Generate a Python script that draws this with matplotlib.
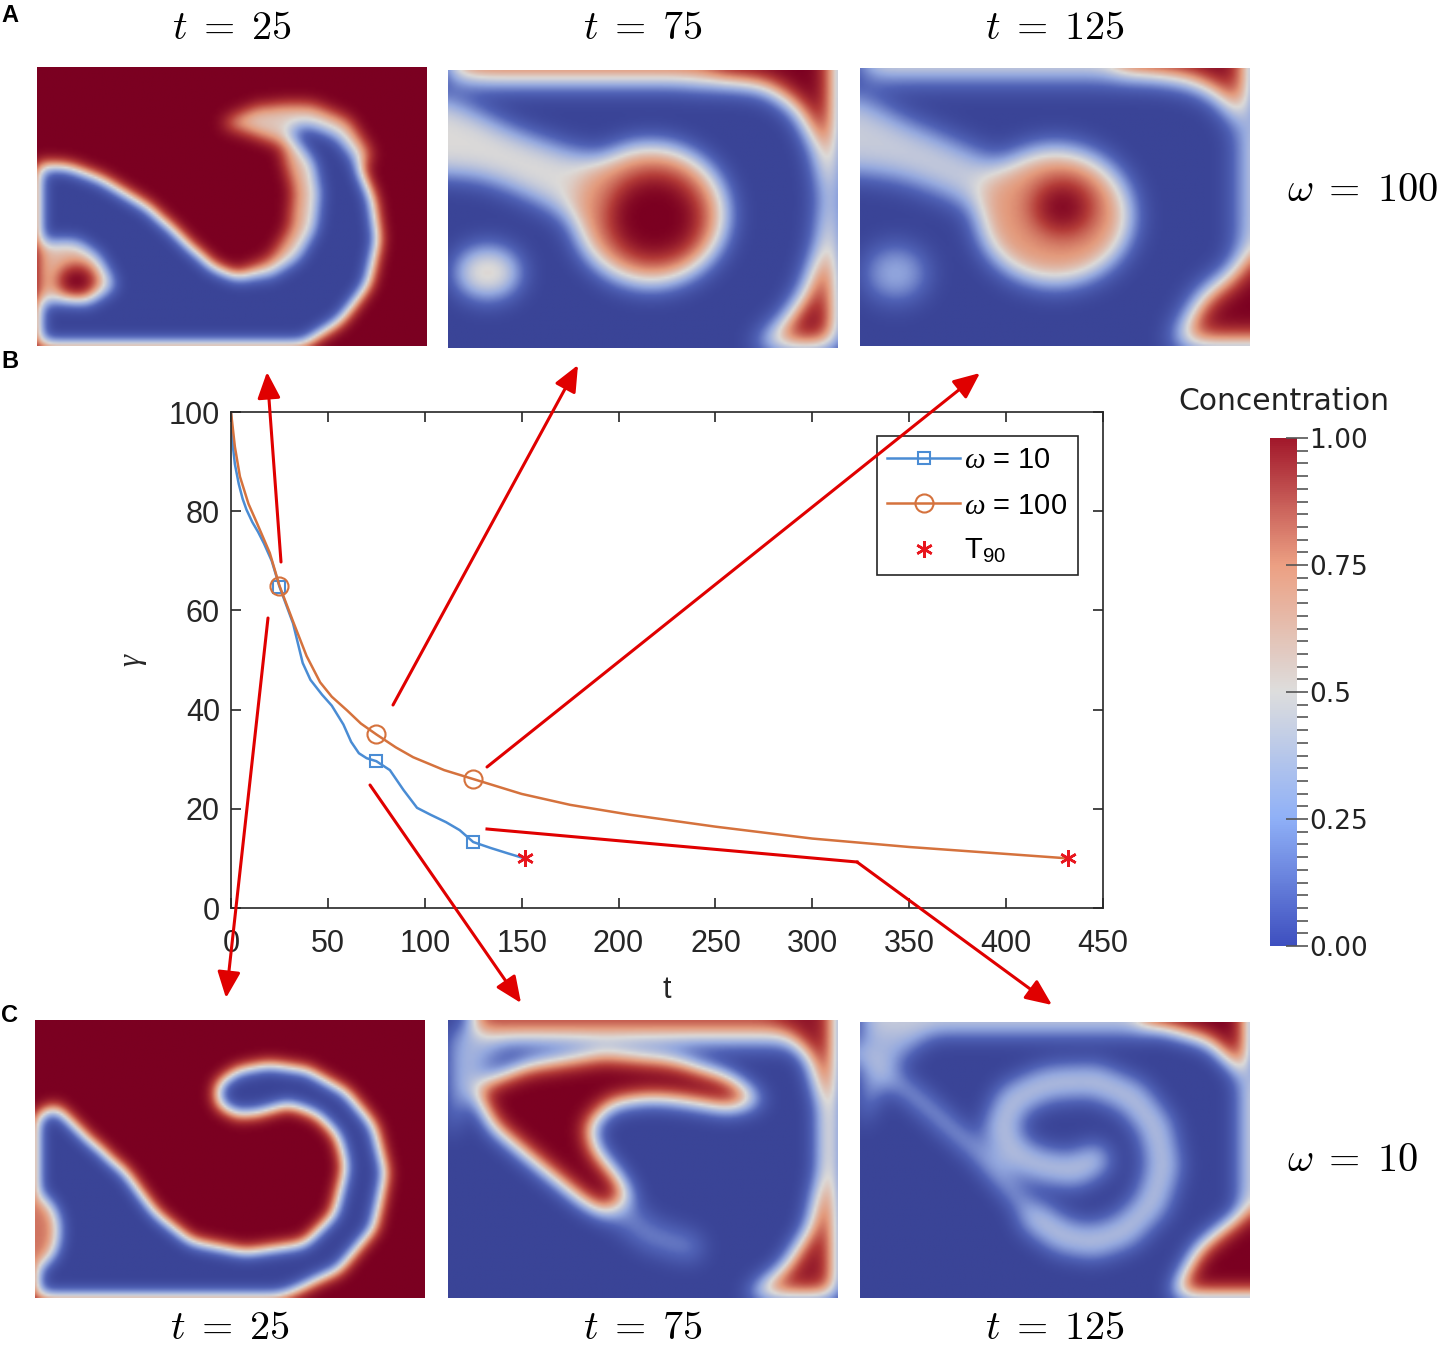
import matplotlib
matplotlib.use("Agg")
import matplotlib.pyplot as plt
import numpy as np
from matplotlib.cm import ScalarMappable
from matplotlib.colors import LinearSegmentedColormap, Normalize
from matplotlib.lines import Line2D
from matplotlib.patches import FancyArrowPatch
from matplotlib.path import Path
from matplotlib.ticker import MultipleLocator

# %% DATA
t_w10 = [0, 1, 2, 4, 6, 8, 11, 14, 17, 21, 25, 32, 37, 41, 47, 52, 58, 62, 66,
         70, 75, 82, 89, 96, 103, 111, 118, 125, 134, 143, 151.5]
gamma_w10 = [100, 93, 89.5, 85.5, 82.5, 80.3, 77.8, 75.8, 73.5, 70, 64.8, 57.4,
             49.4, 46, 43, 40.8, 37, 33.5, 31.2, 30.2, 29.6, 27.8, 23.8, 20.2,
             18.8, 17.3, 15.7, 13.3, 12.1, 11.0, 10.0]
t_w100 = [0, 2, 4.6, 9, 13.4, 20, 25, 32, 39, 46, 52, 60, 67, 75, 85, 94, 110,
          125, 150, 175, 206, 250, 300, 350, 400, 432]
gamma_w100 = [100, 93, 87, 81.5, 77.6, 71.6, 65, 57.8, 50.8, 45.5, 42.6, 39.8,
              37.2, 35, 32.4, 30.4, 27.8, 26, 23, 20.8, 18.8, 16.4, 14, 12.3,
              10.9, 10.0]
t_snap = [25, 75, 125]
t90 = [151.5, 432]
gamma_t90 = [10.0, 10.0]

x_ticks = list(range(0, 451, 50))
y_ticks = list(range(0, 101, 20))
cbar_ticks = [0, 0.25, 0.5, 0.75, 1.0]
cbar_labels = ["0.00", "0.25", "0.5", "0.75", "1.00"]
snap_titles = [r"$t\;=\;25$", r"$t\;=\;75$", r"$t\;=\;125$"]

# %% STYLE
plt.rcParams["font.family"] = ["Liberation Sans", "DejaVu Sans"]
plt.rcParams["mathtext.fontset"] = "custom"
plt.rcParams["mathtext.rm"] = "Liberation Sans"
plt.rcParams["mathtext.it"] = "Liberation Serif:italic"
plt.rcParams["mathtext.bf"] = "Liberation Sans:bold"

BLUE = "#4a8cd4"
ORANGE = "#d5723d"
STAR = "#e8161e"
ARROW = "#e00000"
AXC = "#262626"

img_cmap = LinearSegmentedColormap.from_list(
    "conc_img",
    [(0, "#3a4497"), (0.15, "#5062b6"), (0.32, "#94a8de"), (0.5, "#dcdad8"),
     (0.68, "#e39a7c"), (0.85, "#b43c38"), (1, "#7b0021")],
)
cb_cmap = LinearSegmentedColormap.from_list(
    "conc_bar",
    [(0, "#3e4fbf"), (0.25, "#8fb0f7"), (0.5, "#dddddd"), (0.75, "#eca083"),
     (1, "#a2182b")],
)

# %% FIELD HELPERS (snapshot panels)
NY, NX = 140, 196
U, V = np.meshgrid(np.linspace(0, 1, NX), np.linspace(0, 1, NY))
PTS = np.column_stack([U.ravel(), V.ravel()])
ASPECT = 1.4


def poly_mask(verts):
    return Path(verts).contains_points(PTS).reshape(NY, NX)


def ellipse_mask(cx, cy, rx, ry):
    return ((U - cx) / rx) ** 2 + ((V - cy) / ry) ** 2 <= 1


def band_mask(pts, hw):
    X, Y = U * ASPECT, V
    d = np.full(U.shape, np.inf)
    for (x0, y0), (x1, y1) in zip(pts[:-1], pts[1:]):
        x0, x1 = x0 * ASPECT, x1 * ASPECT
        dx, dy = x1 - x0, y1 - y0
        s = np.clip(((X - x0) * dx + (Y - y0) * dy) / (dx * dx + dy * dy), 0, 1)
        d = np.minimum(d, np.hypot(X - x0 - s * dx, Y - y0 - s * dy))
    return d <= hw


def blur(a, sigma):
    r = int(3 * sigma)
    k = np.exp(-0.5 * (np.arange(-r, r + 1) / sigma) ** 2)
    k /= k.sum()
    p = np.pad(a, ((r, r), (0, 0)), mode="edge")
    a = sum(w * p[i:i + NY] for i, w in enumerate(k))
    p = np.pad(a, ((0, 0), (r, r)), mode="edge")
    return sum(w * p[:, i:i + NX] for i, w in enumerate(k))


MASKS = {"poly": poly_mask, "ellipse": ellipse_mask, "band": band_mask}


def make_field(background, layers, sigma):
    c = np.full((NY, NX), float(background))
    for kind, args, value in layers:
        c[MASKS[kind](*args)] = value
    return blur(c, sigma)


# omega = 100
A1 = (1.0, [
    ("poly", ([(0.47, 0.80), (0.57, 0.86), (0.70, 0.87), (0.80, 0.81), (0.86, 0.68),
               (0.80, 0.62), (0.70, 0.66), (0.62, 0.73), (0.54, 0.77)],), 0.55),
    ("poly", ([(0.52, 0.21), (0.62, 0.22), (0.69, 0.30), (0.73, 0.42), (0.73, 0.58),
               (0.69, 0.70), (0.63, 0.70), (0.66, 0.56), (0.65, 0.42), (0.60, 0.31),
               (0.52, 0.26)],), 0.6),
    ("poly", ([(0, 0.65), (0.08, 0.64), (0.16, 0.60), (0.29, 0.49), (0.38, 0.37),
               (0.45, 0.28), (0.52, 0.24), (0.60, 0.25), (0.67, 0.31), (0.715, 0.42),
               (0.725, 0.55), (0.71, 0.66), (0.67, 0.74), (0.64, 0.78), (0.70, 0.79),
               (0.77, 0.75), (0.82, 0.66), (0.86, 0.53), (0.875, 0.38), (0.85, 0.22),
               (0.78, 0.09), (0.68, 0.0), (0, 0)],), 0.0),
    ("poly", ([(0, 0.37), (0.10, 0.38), (0.16, 0.32), (0.20, 0.21), (0.13, 0.15),
               (0, 0.16)],), 0.6),
    ("ellipse", (0.10, 0.23, 0.05, 0.06), 1.0),
], 4.0)
A2 = (0.0, [
    ("poly", ([(0, 0.965), (0, 1.0), (0.75, 1.0), (0.75, 0.955)],), 0.8),
    ("poly", ([(0.68, 1), (1, 1), (1, 0), (0.78, 0), (0.86, 0.08), (0.92, 0.2),
               (0.96, 0.38), (0.97, 0.55), (0.95, 0.72), (0.90, 0.86), (0.82, 0.94),
               (0.72, 0.96)],), 1.0),
    ("poly", ([(0, 0.62), (0.08, 0.61), (0.16, 0.57), (0.25, 0.51), (0.33, 0.44),
               (0.42, 0.38), (0.42, 0.68), (0.30, 0.72), (0.18, 0.78), (0.08, 0.85),
               (0, 0.90)],), 0.5),
    ("ellipse", (0.52, 0.48, 0.20, 0.26), 0.7),
    ("ellipse", (0.53, 0.47, 0.12, 0.16), 1.0),
    ("ellipse", (0.10, 0.27, 0.085, 0.095), 0.55),
], 6.5)
A3 = (0.0, [
    ("poly", ([(0, 0.97), (0, 1), (0.72, 1), (0.72, 0.965)],), 0.55),
    ("poly", ([(0.66, 1), (1, 1), (1, 0.68), (0.97, 0.82), (0.92, 0.91), (0.84, 0.96),
               (0.75, 0.975)],), 1.0),
    ("poly", ([(0.975, 0.2), (1, 0.2), (1, 0.8), (0.975, 0.8)],), 0.5),
    ("poly", ([(0.80, 0), (1, 0), (1, 0.33), (0.95, 0.25), (0.88, 0.18),
               (0.84, 0.08)],), 1.0),
    ("poly", ([(0, 0.62), (0.1, 0.60), (0.2, 0.55), (0.32, 0.47), (0.36, 0.66),
               (0.22, 0.75), (0.12, 0.81), (0, 0.90)],), 0.45),
    ("ellipse", (0.50, 0.47, 0.20, 0.25), 0.68),
    ("ellipse", (0.52, 0.50, 0.08, 0.10), 1.0),
    ("ellipse", (0.09, 0.26, 0.08, 0.10), 0.35),
], 7.0)

# omega = 10
C1 = (1.0, [
    ("poly", ([(0, 0.65), (0.05, 0.69), (0.12, 0.59), (0.23, 0.45), (0.31, 0.30),
               (0.40, 0.20), (0.54, 0.16), (0.69, 0.19), (0.77, 0.30), (0.80, 0.47),
               (0.78, 0.58), (0.73, 0.66), (0.65, 0.70), (0.58, 0.67), (0.52, 0.66),
               (0.47, 0.70), (0.47, 0.77), (0.52, 0.82), (0.60, 0.84), (0.70, 0.82),
               (0.80, 0.74), (0.87, 0.62), (0.90, 0.45), (0.87, 0.25), (0.78, 0.10),
               (0.66, 0.02), (0.62, 0), (0, 0)],), 0.0),
    ("ellipse", (0.0, 0.24, 0.06, 0.13), 0.75),
], 4.0)
C2 = (0.0, [
    ("poly", ([(0, 0.55), (0, 0.97), (0.2, 0.95), (0.10, 0.85), (0.04, 0.70)],), 0.38),
    ("poly", ([(0.05, 0.90), (0.05, 0.955), (0.88, 0.955), (0.88, 0.90)],), 0.3),
    ("poly", ([(0.06, 0.955), (0.06, 1), (1, 1), (1, 0.95)],), 0.85),
    ("poly", ([(0.84, 1), (1, 1), (1, 0), (0.76, 0), (0.86, 0.10), (0.93, 0.25),
               (0.96, 0.45), (0.96, 0.70), (0.93, 0.86)],), 0.95),
    ("poly", ([(0.06, 0.76), (0.20, 0.84), (0.40, 0.88), (0.58, 0.86), (0.72, 0.80),
               (0.81, 0.71), (0.72, 0.68), (0.60, 0.71), (0.52, 0.72), (0.42, 0.70),
               (0.36, 0.62), (0.38, 0.53), (0.44, 0.43), (0.48, 0.33), (0.44, 0.27),
               (0.35, 0.34), (0.21, 0.50), (0.11, 0.62)],), 1.0),
    ("band", ([(0.45, 0.30), (0.52, 0.22), (0.62, 0.18)], 0.05), 0.25),
], 5.5)
C3 = (0.0, [
    ("poly", ([(0, 0.60), (0, 1), (0.22, 1), (0.10, 0.86), (0.04, 0.72)],), 0.35),
    ("poly", ([(0, 0.96), (0, 1), (0.75, 1), (0.75, 0.96)],), 0.45),
    ("poly", ([(0.72, 1), (1, 1), (1, 0.72), (0.97, 0.83), (0.90, 0.93),
               (0.80, 0.97)],), 1.0),
    ("poly", ([(0.975, 0.25), (1, 0.25), (1, 0.8), (0.975, 0.8)],), 0.5),
    ("poly", ([(0.80, 0), (1, 0), (1, 0.32), (0.94, 0.26), (0.87, 0.18),
               (0.83, 0.08)],), 1.0),
    ("band", ([(0, 0.89), (0.15, 0.72), (0.30, 0.53), (0.38, 0.40), (0.45, 0.29)],
              0.025), 0.45),
    ("band", ([(0.45, 0.29), (0.52, 0.22), (0.60, 0.20), (0.68, 0.24), (0.75, 0.34),
               (0.78, 0.48), (0.76, 0.62), (0.70, 0.73), (0.60, 0.79), (0.48, 0.78),
               (0.39, 0.72), (0.36, 0.62), (0.39, 0.53), (0.46, 0.48), (0.55, 0.46),
               (0.60, 0.50)], 0.06), 0.42),
], 5.5)

# %% FIGURE
W, H = 1449, 1352
fig = plt.figure(figsize=(W / 100, H / 100), dpi=100)


def fig_box(x0, y0, x1, y1):
    return [x0 / W, 1 - y1 / H, (x1 - x0) / W, (y1 - y0) / H]


def fxy(x, y):
    return (x / W, 1 - y / H)


top_boxes = [(37, 67, 427, 346), (448, 70, 838, 348), (860, 68, 1250, 346)]
bot_boxes = [(35, 1020, 425, 1298), (448, 1020, 838, 1298), (860, 1022, 1250, 1298)]

for box, spec in zip(top_boxes + bot_boxes, [A1, A2, A3, C1, C2, C3]):
    a = fig.add_axes(fig_box(*box))
    a.imshow(make_field(*spec), cmap=img_cmap, vmin=0, vmax=1, origin="lower",
             aspect="auto", interpolation="bilinear")
    a.set_axis_off()

for (x0, y0, x1, y1), title in zip(top_boxes, snap_titles):
    fig.text((x0 + x1) / 2 / W, 1 - 28 / H, title, fontsize=29, math_fontfamily="cm",
             ha="center", va="center")
for (x0, y0, x1, y1), title in zip(bot_boxes, snap_titles):
    fig.text((x0 + x1) / 2 / W, 1 - 1328 / H, title, fontsize=29,
             math_fontfamily="cm", ha="center", va="center")

fig.text(*fxy(1363, 190), r"$\omega\;=\;100$", fontsize=29, math_fontfamily="cm",
         ha="center", va="center")
fig.text(*fxy(1352, 1160), r"$\omega\;=\;10$", fontsize=29, math_fontfamily="cm",
         ha="center", va="center")

for letter, y in zip("ABC", [15, 362, 1015]):
    fig.text(*fxy(10, y), letter, fontsize=17, fontweight="bold", ha="center",
             va="center")

# Main plot
ax = fig.add_axes(fig_box(231, 412, 1103, 908))
ax.plot(t_w10, gamma_w10, color=BLUE, lw=1.8, marker="s", ms=9, mfc="none",
        mew=1.5, markevery=[t_w10.index(t) for t in t_snap], label=r"$\omega$ = 10")
ax.plot(t_w100, gamma_w100, color=ORANGE, lw=1.8, marker="o", ms=13, mfc="none",
        mew=1.5, markevery=[t_w100.index(t) for t in t_snap],
        label=r"$\omega$ = 100")
ax.plot(t90, gamma_t90, ls="none", marker=(6, 2, 0), ms=12, mew=1.8, color=STAR,
        label=r"T$_{90}$")
ax.set_xlim(0, 450)
ax.set_ylim(0, 100)
ax.set_xticks(x_ticks)
ax.set_yticks(y_ticks)
ax.tick_params(direction="in", length=7, width=1.2, color=AXC, labelcolor=AXC,
               labelsize=22, top=True, right=True)
ax.tick_params(axis="x", pad=15)
ax.tick_params(axis="y", pad=8)
for s in ax.spines.values():
    s.set_color(AXC)
    s.set_linewidth(1.2)
ax.set_xlabel("t", fontsize=22, color=AXC, labelpad=12)
ax.set_ylabel(r"$\gamma$", fontsize=22, color=AXC, labelpad=14)
leg = ax.legend(loc="upper right", bbox_to_anchor=(0.971, 0.952), borderaxespad=0,
                fontsize=21, fancybox=False, framealpha=1, edgecolor=AXC,
                handlelength=2.5, handletextpad=0.15, labelspacing=0.6,
                borderpad=0.35)
leg.get_frame().set_linewidth(1.2)

# Colorbar
cax = fig.add_axes(fig_box(1270, 438, 1297, 946))
cb = fig.colorbar(ScalarMappable(Normalize(0, 1), cmap=cb_cmap), cax=cax)
cb.outline.set_visible(False)
cb.set_ticks(cbar_ticks, labels=cbar_labels)
cax.yaxis.set_minor_locator(MultipleLocator(0.025))
cax.tick_params(which="major", direction="inout", length=16, width=1.2,
                color="#555555", labelsize=19, pad=1, labelcolor="#222222")
cax.tick_params(which="minor", direction="out", length=8, width=1.2,
                color="#555555")
for lab in cax.get_yticklabels():
    lab.set_family("DejaVu Sans")
fig.text(*fxy(1284, 401), "Concentration", fontsize=21.5, family="DejaVu Sans",
         ha="center", va="center", color="#222222")

# Red arrows linking curve points to snapshots
arrows = [((281, 562), (267, 372)), ((268, 618), (226, 998)),
          ((393, 705), (578, 365)), ((370, 785), (521, 1003)),
          ((487, 767), (980, 373)), ((857, 862), (1052, 1005))]
for p0, p1 in arrows:
    fig.add_artist(FancyArrowPatch(
        fxy(*p0), fxy(*p1), transform=fig.transFigure,
        arrowstyle="-|>,head_length=0.8,head_width=0.35", mutation_scale=20,
        color=ARROW, lw=2.2, shrinkA=0, shrinkB=0))
fig.add_artist(Line2D([487 / W, 857 / W], [1 - 829 / H, 1 - 862 / H],
                      transform=fig.transFigure, color=ARROW, lw=2.2))

fig.savefig("out.png", dpi=100)
